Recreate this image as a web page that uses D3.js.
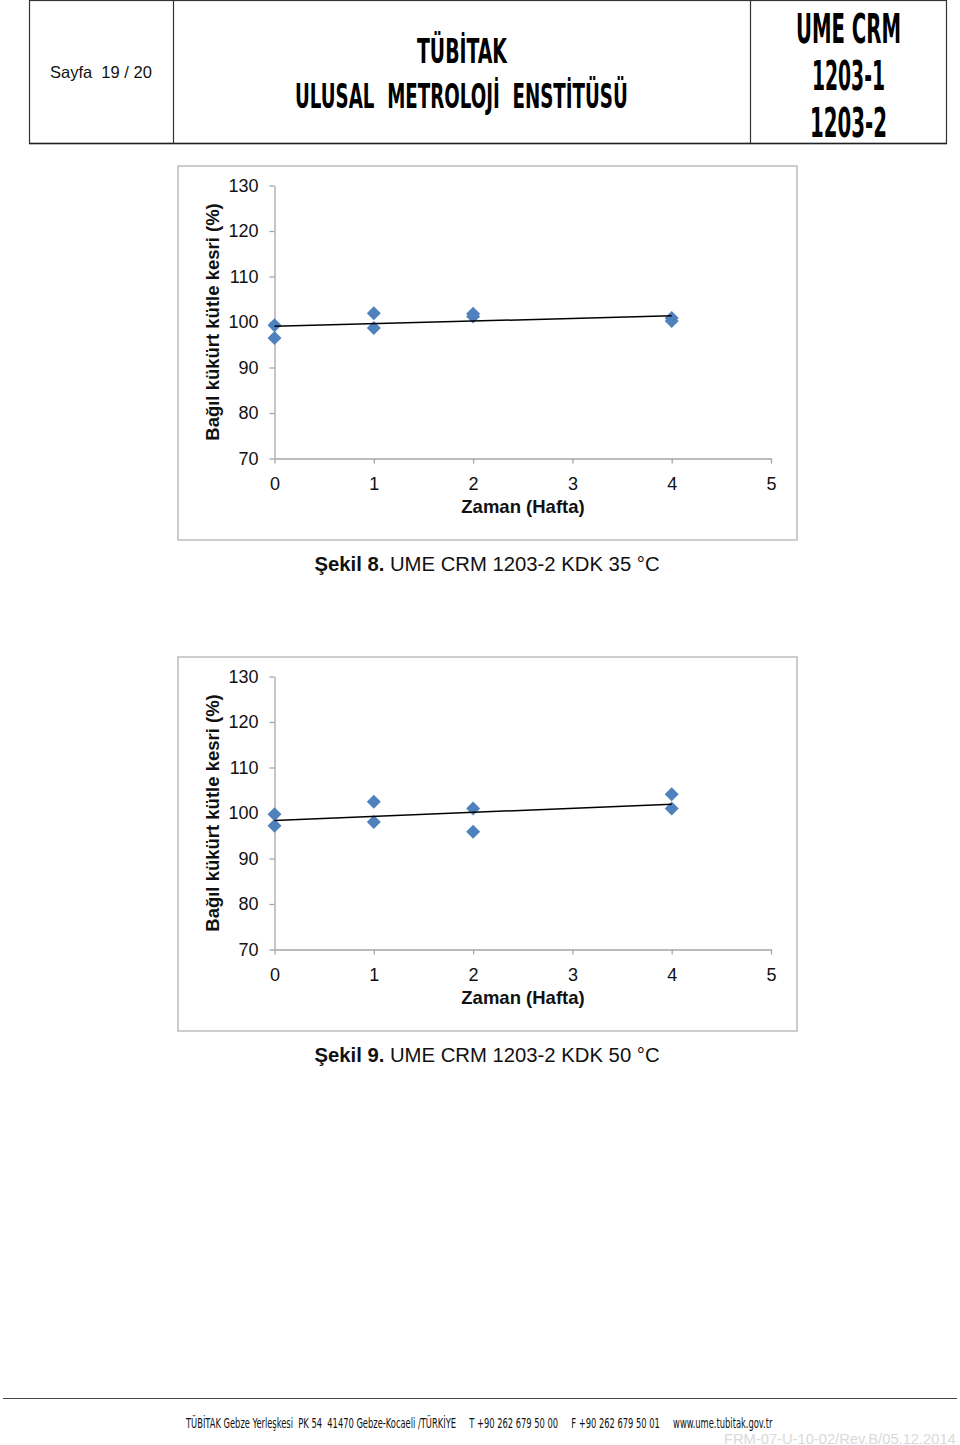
<!DOCTYPE html>
<html><head><meta charset="utf-8">
<script src="https://cdn.jsdelivr.net/npm/d3@7"></script>
<style>
html,body{margin:0;padding:0;background:#fff;}
svg{display:block;}
</style></head>
<body>
<script>
// ---- data ----
const weeksX = [0, 0, 1, 1, 2, 2, 4, 4];
const values35 = [99.3, 96.5, 101.9, 98.7, 101.8, 101.2, 100.9, 100.2];
const values50 = [99.7, 97.2, 102.5, 98.0, 101.0, 95.9, 104.1, 101.0];
const xTicks = [0, 1, 2, 3, 4, 5];
const yTicks = [70, 80, 90, 100, 110, 120, 130];
const captions = [
  {bold: "Şekil 8.", rest: " UME CRM 1203-2 KDK 35 °C"},
  {bold: "Şekil 9.", rest: " UME CRM 1203-2 KDK 50 °C"}
];
const xTitle = "Zaman (Hafta)";
const yTitle = "Bağıl kükürt kütle kesri (%)";

const W = 960, H = 1445;
const svg = d3.select("body").append("svg").attr("width", W).attr("height", H);
const narrow = "'Liberation Sans Narrow','DejaVu Sans Condensed','Liberation Sans',sans-serif";
const sans = "'Liberation Sans',Arial,sans-serif";

// text squeezed horizontally to a target width via transform
function fitText(parent, t, x, y, len, size, opts) {
  opts = opts || {};
  const el = parent.append("text").attr("x", 0).attr("y", 0).attr("font-family", opts.family || narrow)
    .attr("font-weight", opts.weight || "bold").attr("font-size", size).attr("fill", opts.fill || "#000")
    .attr("xml:space", "preserve").text(t);
  const w = el.node().getComputedTextLength();
  el.attr("transform", `translate(${x},${y}) scale(${len / w},1)`);
  return el;
}

// ---- header ----
const hdr = svg.append("g");
hdr.append("rect").attr("x", 29.5).attr("y", 0.5).attr("width", 917).attr("height", 143)
  .attr("fill", "none").attr("stroke", "#333").attr("stroke-width", 1.2);
hdr.append("line").attr("x1", 29).attr("x2", 947).attr("y1", 143.5).attr("y2", 143.5).attr("stroke", "#222").attr("stroke-width", 1.6);
[173.5, 750.5].forEach(x => hdr.append("line").attr("x1", x).attr("x2", x).attr("y1", 0).attr("y2", 143).attr("stroke", "#333").attr("stroke-width", 1.2));
hdr.append("text").attr("x", 50).attr("y", 77.5).attr("font-family", sans).attr("font-size", 16.5).attr("fill", "#111")
  .attr("xml:space", "preserve").text("Sayfa  19 / 20");
fitText(hdr, "TÜBİTAK", 417, 63, 90, 34);
fitText(hdr, "ULUSAL  METROLOJİ  ENSTİTÜSÜ", 295, 108, 333, 34);
fitText(hdr, "UME CRM", 796, 43, 105, 40);
fitText(hdr, "1203-1", 812, 90, 73, 40);
fitText(hdr, "1203-2", 810, 137, 77, 40);

// ---- charts ----
function chart(offsetY, vals, cap) {
  const g = svg.append("g").attr("transform", `translate(0,${offsetY})`);
  g.append("rect").attr("x", 178).attr("y", 166).attr("width", 619).attr("height", 374)
    .attr("fill", "#fff").attr("stroke", "#bdbdbd").attr("stroke-width", 1.5);
  const x = d3.scaleLinear().domain([0, 5]).range([274.5, 771]);
  const y = d3.scaleLinear().domain([70, 130]).range([458.5, 185.5]);
  const yAx = g.append("g").attr("transform", "translate(274.5,0)")
    .call(d3.axisLeft(y).tickValues(yTicks).tickFormat(d3.format("d")).tickSize(5).tickPadding(10).tickSizeOuter(0));
  const xAx = g.append("g").attr("transform", "translate(0,458.5)")
    .call(d3.axisBottom(x).tickValues(xTicks).tickFormat(d3.format("d")).tickSize(5).tickPadding(10).tickSizeOuter(0));
  [yAx, xAx].forEach(a => {
    a.select(".domain").attr("stroke", "#a6a6a6").attr("stroke-width", 1.3);
    a.selectAll(".tick line").attr("stroke", "#a6a6a6").attr("stroke-width", 1.3);
    a.selectAll(".tick text").attr("font-family", sans).attr("font-size", 18).attr("fill", "#111");
  });
  xAx.selectAll(".tick text").attr("dy", "0.9em");
  yAx.selectAll(".tick text").attr("x", -16);
  g.append("text").attr("x", 523).attr("y", 513).attr("text-anchor", "middle").attr("font-family", sans)
    .attr("font-weight", "bold").attr("font-size", 18.5).attr("fill", "#111").text(xTitle);
  g.append("text").attr("transform", "translate(219,322) rotate(-90)").attr("text-anchor", "middle")
    .attr("font-family", sans).attr("font-weight", "bold").attr("font-size", 18.5).attr("fill", "#111").text(yTitle);

  // trendline (least squares through the points)
  const mx = d3.mean(weeksX), my = d3.mean(vals);
  const sxy = d3.sum(weeksX, (d, i) => (d - mx) * (vals[i] - my));
  const sxx = d3.sum(weeksX, d => (d - mx) * (d - mx));
  const b = sxy / sxx, a0 = my - b * mx;
  const x0 = d3.min(weeksX), x1 = d3.max(weeksX);
  const pts = weeksX.map((d, i) => ({x: d, y: vals[i]}));
  g.selectAll("path.pt").data(pts).join("path").attr("class", "pt")
    .attr("transform", d => `translate(${x(d.x)},${y(d.y)})`)
    .attr("d", "M0,-7L7,0L0,7L-7,0Z").attr("fill", "#4f81bd");
  g.append("line").attr("x1", x(x0)).attr("x2", x(x1)).attr("y1", y(a0 + b * x0)).attr("y2", y(a0 + b * x1))
    .attr("stroke", "#000").attr("stroke-width", 1.5);

  const t = g.append("text").attr("x", 487).attr("y", 571).attr("text-anchor", "middle")
    .attr("font-family", sans).attr("font-size", 20.3).attr("fill", "#111");
  t.append("tspan").attr("font-weight", "bold").text(cap.bold);
  t.append("tspan").text(cap.rest);
}
chart(0, values35, captions[0]);
chart(491, values50, captions[1]);

// ---- footer ----
svg.append("line").attr("x1", 3).attr("x2", 957).attr("y1", 1398.5).attr("y2", 1398.5).attr("stroke", "#444").attr("stroke-width", 1.2);
fitText(svg, "TÜBİTAK Gebze Yerleşkesi  PK 54  41470 Gebze-Kocaeli /TÜRKİYE     T +90 262 679 50 00     F +90 262 679 50 01     www.ume.tubitak.gov.tr",
  186, 1428, 587, 14, {weight: "normal", fill: "#111"});
fitText(svg, "FRM-07-U-10-02/Rev.B/05.12.2014", 724, 1443.5, 232, 14.5, {family: sans, weight: "normal", fill: "#d9d9d9"});
</script>
</body></html>
